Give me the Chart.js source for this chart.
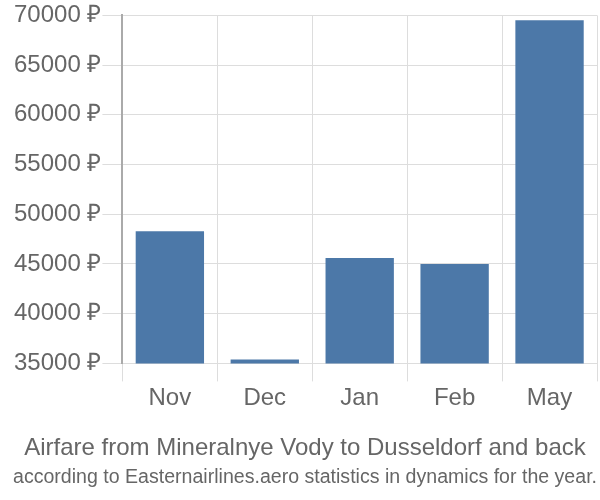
<!DOCTYPE html>
<html>
<head>
<meta charset="utf-8">
<script src="https://cdn.jsdelivr.net/npm/chart.js@4"></script>
<style>
  html, body { margin: 0; padding: 0; background: #fff; }
  #wrap { width: 600px; height: 500px; }
</style>
</head>
<body>
<div id="wrap"><canvas id="fareChart" width="600" height="500"></canvas></div>
<script>
// data
const months = ["Nov", "Dec", "Jan", "Feb", "May"];
const fares = [48300, 35400, 45600, 45000, 69500];
const yTicks = [35000, 40000, 45000, 50000, 55000, 60000, 65000, 70000];

const titleText = "Airfare from Mineralnye Vody to Dusseldorf and back";
const subtitleText = "according to Easternairlines.aero statistics in dynamics for the year.";

const fontFamily = "'Liberation Sans', Arial, sans-serif";
const canvas = document.getElementById("fareChart");

window.chart = new Chart(canvas, {
  type: "bar",
  data: {
    labels: months,
    datasets: [
      {
        label: "Airfare",
        data: fares,
        backgroundColor: "#4c78a8",
        borderColor: "#4c78a8",
        borderWidth: 0
      }
    ]
  },
  options: {
    responsive: false,
    animation: false,
    layout: { padding: { left: 13, right: 3, top: 4, bottom: 7 } },
    plugins: {
      legend: { display: false },
      tooltip: { enabled: false },
      // title sits right under the axis, subtitle below it
      title: {
        display: true,
        text: titleText,
        position: "bottom",
        weight: 1000,
        color: "#666",
        font: { family: fontFamily, size: 24, weight: "normal" },
        padding: { top: 18, bottom: 2 }
      },
      subtitle: {
        display: true,
        text: subtitleText,
        position: "bottom",
        weight: 2000,
        color: "#666",
        font: { family: fontFamily, size: 20, weight: "normal" },
        padding: { top: 0, bottom: 4 }
      }
    },
    scales: {
      x: {
        grid: { color: "#ddd", tickLength: 18, offset: true },
        border: { display: false },
        ticks: { color: "#666", font: { family: fontFamily, size: 24 }, padding: 3 }
      },
      y: {
        min: 35000,
        max: 70000,
        afterBuildTicks: (axis) => { axis.ticks = yTicks.map(v => ({ value: v })); },
        grid: { color: "#ddd", tickLength: 20 },
        border: { display: true, color: "#aaa", width: 2 },
        ticks: {
          color: "#666",
          font: { family: fontFamily, size: 24 },
          padding: 1,
          callback: (v) => v + " ₽"
        }
      }
    }
  }
});
</script>
</body>
</html>
